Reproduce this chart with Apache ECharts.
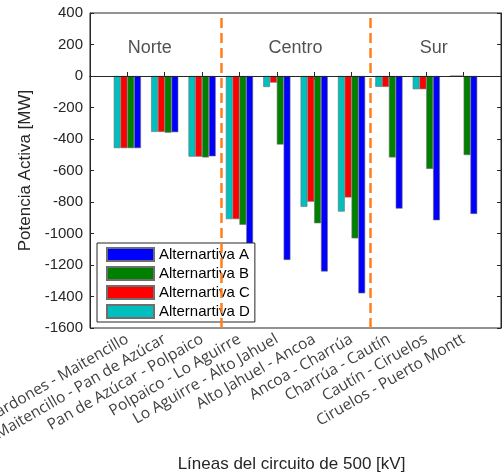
<!DOCTYPE html>
<html><head><meta charset="utf-8">
<script src="https://cdn.jsdelivr.net/npm/echarts@6/dist/echarts.min.js"></script>
<style>html,body{margin:0;padding:0;background:#fff}#c{width:502px;height:473px}</style>
</head><body><div id="c"></div>
<script>
const lineNames = ['Cardones - Maitencillo','Maitencillo - Pan de Azúcar','Pan de Azúcar - Polpaico','Polpaico - Lo Aguirre','Lo Aguirre - Alto Jahuel','Alto Jahuel - Ancoa','Ancoa - Charrúa','Charrúa - Cautín','Cautín - Ciruelos','Ciruelos - Puerto Montt'];
const altA = [-458,-357,-510,-1290,-1168,-1241,-1380,-842,-916,-876];
const altB = [-458,-360,-517,-945,-435,-935,-1031,-517,-590,-502];
const altC = [-458,-355,-512,-909,-42,-798,-771,-69,-84,0];
const altD = [-458,-355,-512,-909,-70,-830,-861,-69,-84,0];
const seriesNames = ['Alternartiva A','Alternartiva B','Alternartiva C','Alternartiva D'];
const regionNames = ['Norte','Centro','Sur'];
const regionSizes = [3,4,3];

const FONT = "'Liberation Sans', Arial, sans-serif";
const cats = [''].concat(lineNames, ['']);
const pad = a => [null].concat(a, [null]);
const dividers = [];
let acc = 0;
for (let i = 0; i < regionSizes.length - 1; i++) { acc += regionSizes[i]; dividers.push(acc + 0.5); }
const regionLabelX = [1.6, 5.5, 9.2];
const regionLabelY = 178;

const colors = {A:'#0000ff', B:'#008000', C:'#ff0000', D:'#00bfbf'};
const barCommon = {type:'bar', xAxisIndex:0, yAxisIndex:0, barWidth:6.8, barGap:'0%',
  itemStyle:{borderColor:'#6e6e6e', borderWidth:0.6}};

const chart = echarts.init(document.getElementById('c'), null, {renderer:'canvas'});
chart.setOption({
  animation:false,
  backgroundColor:'#fff',
  grid:{left:90, right:1, top:13, bottom:145, show:true, borderColor:'#262626', borderWidth:1,
        containLabel:false, outerBoundsMode:'none'},
  legend:{
    data:seriesNames, orient:'vertical', left:97, top:243,
    itemWidth:47, itemHeight:13, itemGap:4, icon:'rect',
    padding:[4,5,3,9], backgroundColor:'#fff', borderColor:'#262626', borderWidth:1,
    textStyle:{fontFamily:FONT, fontSize:15, color:'#000'}
  },
  xAxis:[
    {type:'category', data:cats, boundaryGap:false, position:'bottom',
     axisLine:{lineStyle:{color:'#262626', width:1}},
     axisTick:{inside:true, length:4, lineStyle:{color:'#262626'}},
     axisLabel:{rotate:30, margin:10, interval:0, fontFamily:"'Open Sans', sans-serif", fontSize:15.5, color:'#404040'},
     splitLine:{show:false},
     name:'Líneas del circuito de 500 [kV]', nameLocation:'middle', nameGap:128,
     nameTextStyle:{fontFamily:FONT, fontSize:17, color:'#262626', padding:[0,8,0,0]}},
    {type:'category', data:cats, boundaryGap:false, position:'top',
     axisLine:{lineStyle:{color:'#262626', width:1}},
     axisTick:{inside:true, length:4, lineStyle:{color:'#262626'}},
     axisLabel:{show:false}, splitLine:{show:false}},
    {type:'value', min:0, max:cats.length-1, show:false}
  ],
  yAxis:[
    {type:'value', min:-1600, max:400, interval:200, position:'left',
     axisLine:{show:true, lineStyle:{color:'#262626'}},
     axisTick:{show:true, inside:true, length:4, lineStyle:{color:'#262626'}},
     axisLabel:{fontFamily:FONT, fontSize:15, color:'#262626', margin:7, formatter:v=>String(v)},
     splitLine:{show:false},
     name:'Potencia Activa [MW]', nameLocation:'middle', nameGap:55, nameRotate:90,
     nameTextStyle:{fontFamily:FONT, fontSize:17, color:'#262626'}},
    {type:'value', min:-1600, max:400, interval:200, position:'right',
     axisLine:{show:true, lineStyle:{color:'#262626'}},
     axisTick:{show:true, inside:true, length:4, lineStyle:{color:'#262626'}},
     axisLabel:{show:false}, splitLine:{show:false}}
  ],
  series:[
    Object.assign({}, barCommon, {name:seriesNames[3], data:pad(altD), itemStyle:Object.assign({}, barCommon.itemStyle, {color:colors.D})}),
    Object.assign({}, barCommon, {name:seriesNames[2], data:pad(altC), itemStyle:Object.assign({}, barCommon.itemStyle, {color:colors.C})}),
    Object.assign({}, barCommon, {name:seriesNames[1], data:pad(altB), itemStyle:Object.assign({}, barCommon.itemStyle, {color:colors.B})}),
    Object.assign({}, barCommon, {name:seriesNames[0], data:pad(altA), itemStyle:Object.assign({}, barCommon.itemStyle, {color:colors.A})}),
    {type:'scatter', name:'regions', xAxisIndex:2, yAxisIndex:0, symbolSize:0, silent:true, z:1,
     data: regionNames.map((n,i)=>({name:n, value:[regionLabelX[i], regionLabelY]})),
     label:{show:true, position:'inside', formatter:p=>p.name, fontFamily:FONT, fontSize:18, color:'#262626'},
     markLine:{silent:true, symbol:'none', label:{show:false}, animation:false,
       data: dividers.map(d=>({xAxis:d, lineStyle:{color:'#ff7f1e', type:[10,5], width:2.5}}))
         .concat([{yAxis:0, lineStyle:{color:'#262626', type:'solid', width:1}}])}
    }
  ]
});
</script></body></html>
